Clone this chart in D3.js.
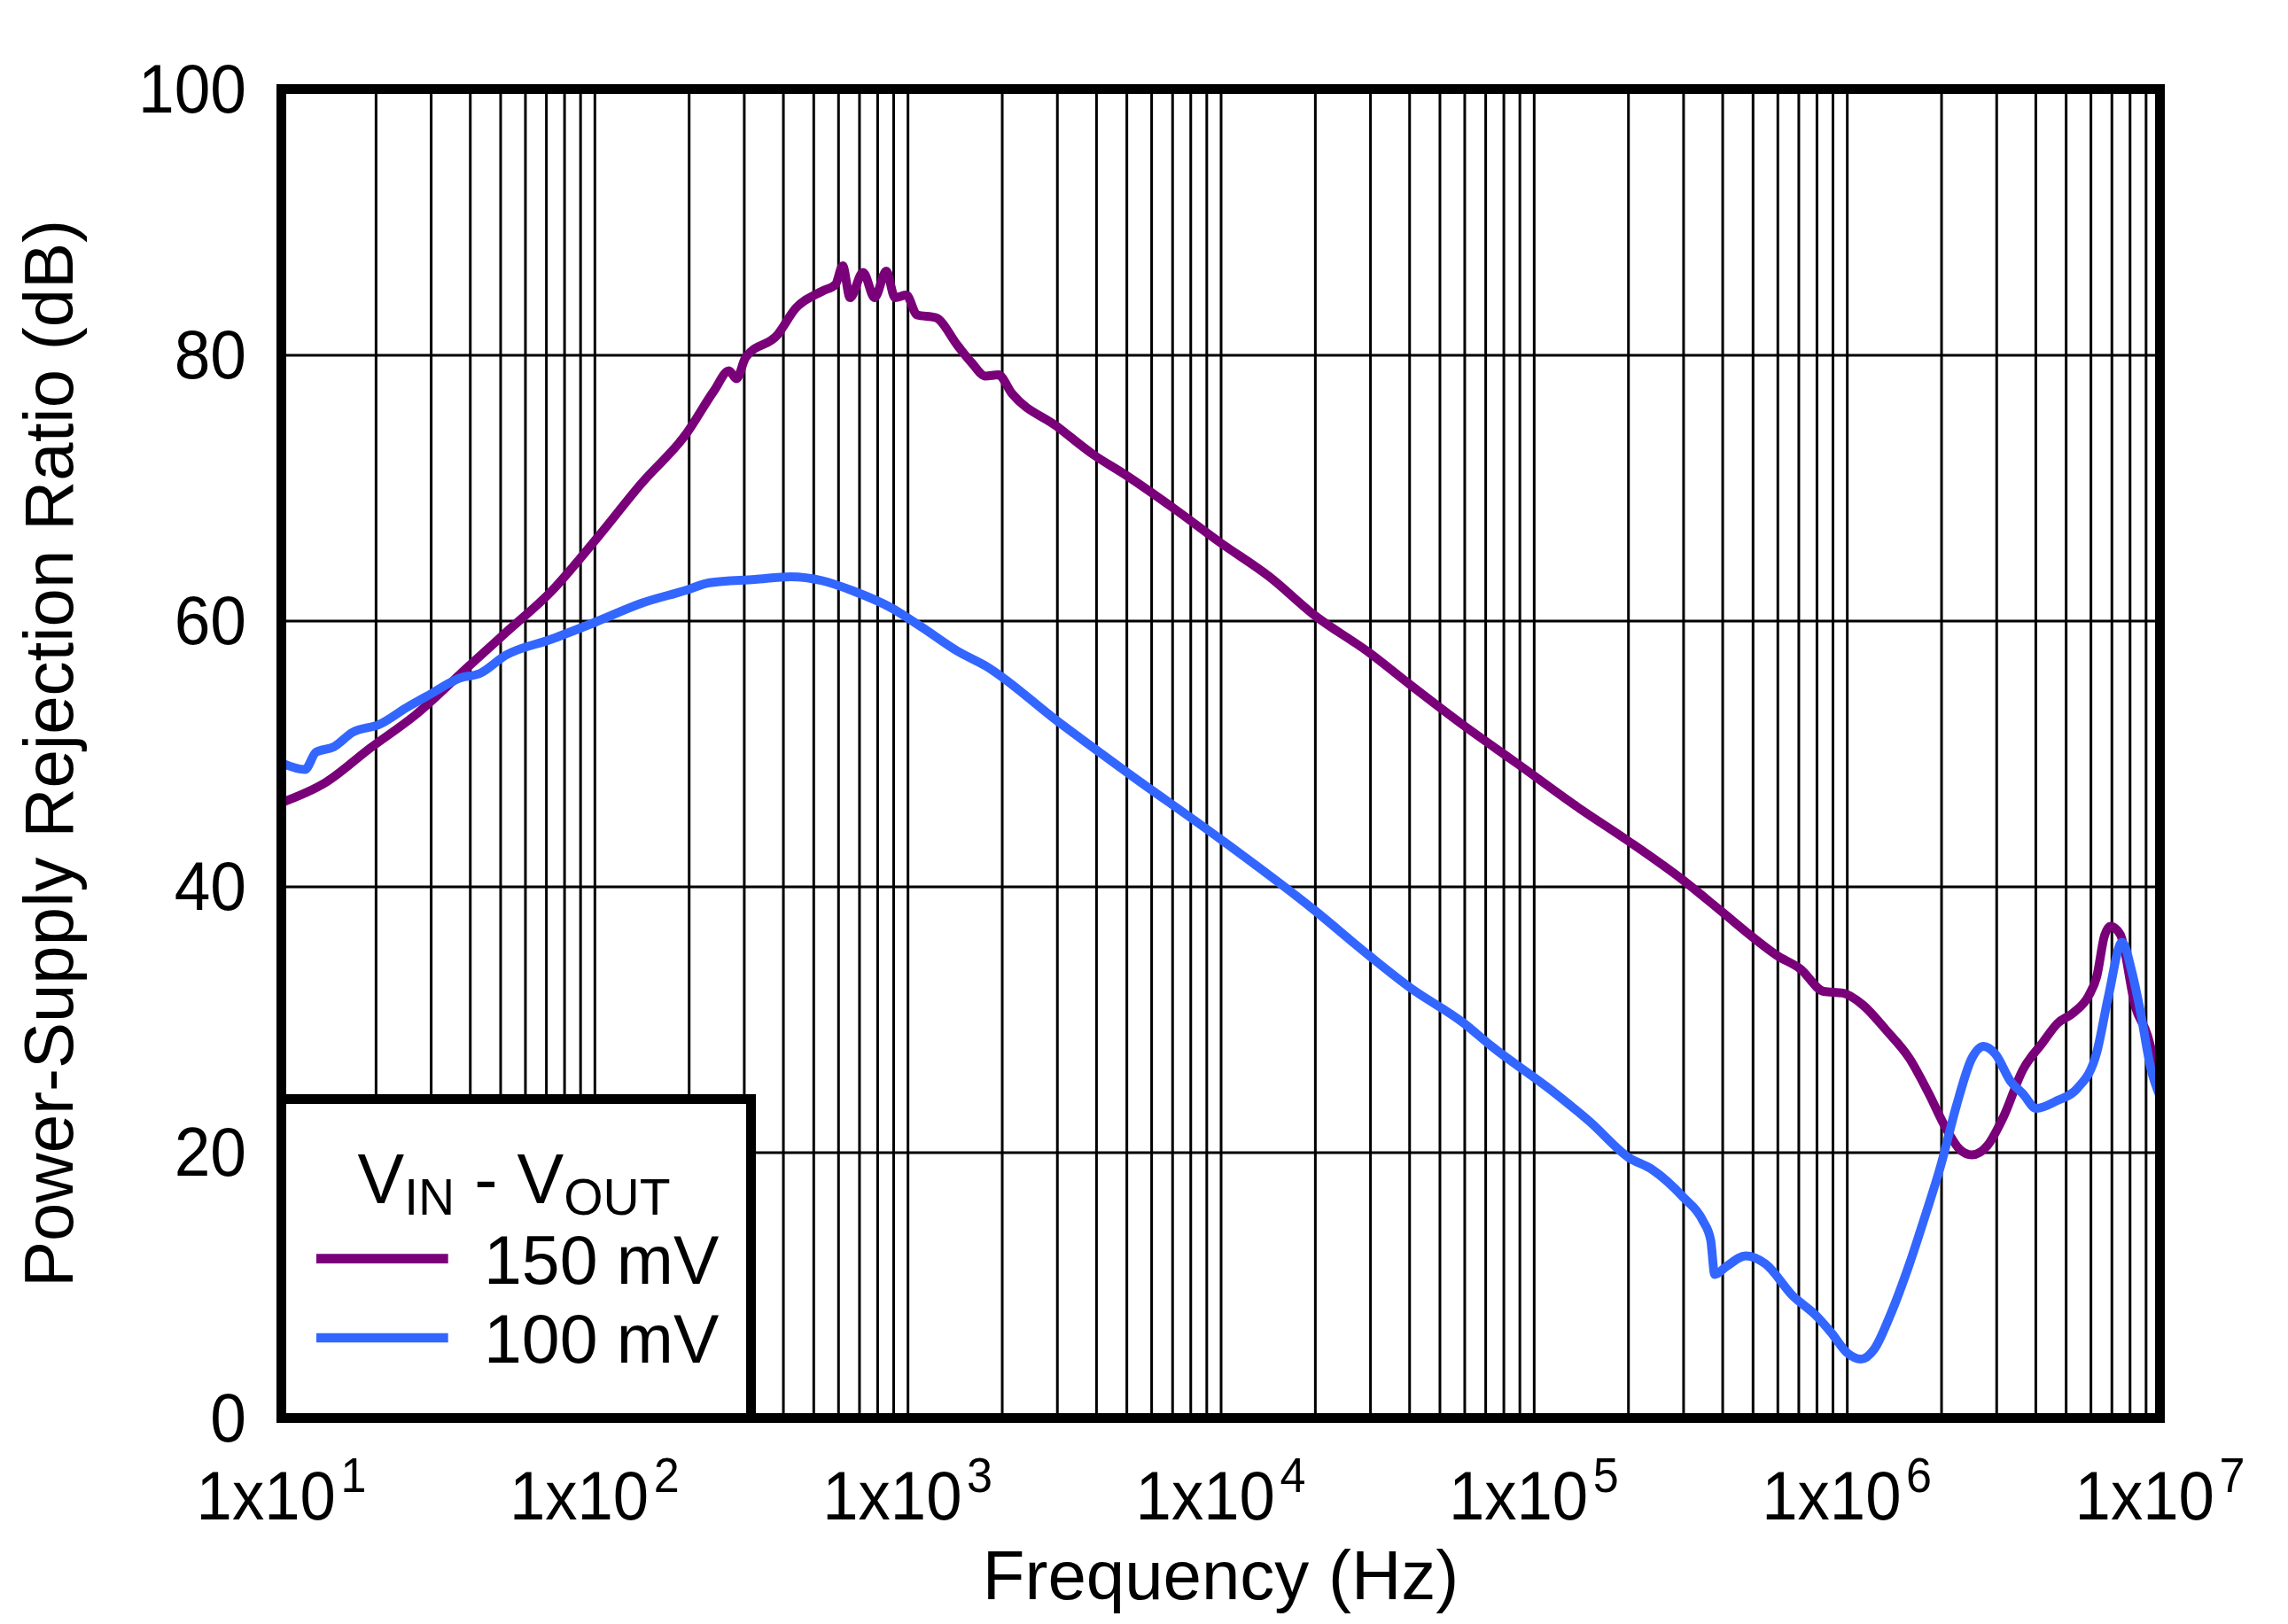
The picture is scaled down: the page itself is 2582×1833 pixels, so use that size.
<!DOCTYPE html>
<html>
<head>
<meta charset="utf-8">
<script src="https://cdn.jsdelivr.net/npm/d3@7"></script>
<style>
  html, body { margin: 0; padding: 0; background: #fff; }
  svg { display: block; }
  text { font-family: "Liberation Sans", Arial, sans-serif; fill: #000; }
</style>
</head>
<body>
<svg id="chart" width="2582" height="1833"></svg>
<script>
// ---------------- DATA ----------------
const xTickExponents = [1, 2, 3, 4, 5, 6, 7];
const yTicks = [0, 20, 40, 60, 80, 100];
const xTitle = "Frequency (Hz)";
const yTitle = "Power-Supply Rejection Ratio (dB)";
const legendTitle = ["V", "IN", " - V", "OUT"];
const seriesNames = ["150 mV", "100 mV"];
const seriesColors = ["#7A007A", "#3366FF"];

// 150 mV curve (frequency in Hz, PSRR in dB)
const freq150 = [10, 13.8, 19.2, 26.8, 39.8, 52.1, 72.8, 101, 141, 197, 241, 269, 284, 304, 384, 439, 535, 589, 621, 655, 721, 785, 855, 912, 991, 1072, 1230, 1445, 1603, 1774, 1950, 2153, 3006, 3917, 4943, 7129, 9931, 14322, 19953, 29785, 40179, 59841, 89125, 137404, 200909, 300608, 399945, 503501, 598412, 709578, 843335, 972747, 1122018, 1333521, 1584893, 1828100, 2051162, 2296206, 2506109, 2811900, 3155005, 3647748, 4207266, 4709773, 5296634, 5929253, 6280583, 6652732, 6950243, 7464487, 8356030, 9120108, 9660509, 10000000];
const psrr150 = [46.3, 47.8, 50.4, 52.9, 56.6, 59.1, 62.2, 66.1, 70.3, 74.1, 77.3, 78.8, 78.2, 79.8, 81.5, 83.5, 84.8, 85.3, 86.7, 84.3, 86.2, 84.3, 86.3, 84.3, 84.5, 83.0, 82.8, 80.7, 79.4, 78.4, 78.5, 77.1, 74.6, 72.5, 71.0, 68.4, 65.9, 63.3, 60.4, 57.6, 55.2, 52.1, 49.2, 46.0, 43.4, 40.45, 38.07, 36.13, 34.8, 33.8, 32.1, 31.97, 31.1, 29.2, 27.06, 24.4, 22.0, 20.2, 19.8, 20.5, 22.6, 26.2, 28.2, 29.7, 30.5, 31.8, 33.2, 36.3, 37.0, 36.4, 30.9, 28.8, 26.5, 25.0];

// 100 mV curve
const freq100 = [10, 11.9, 12.9, 14.7, 16.9, 20.6, 25.1, 29.6, 37.4, 42.8, 52.1, 72.8, 101, 141, 197, 233, 325, 424, 535, 676, 881, 1112, 1445, 1774, 3006, 4943, 9931, 19953, 29785, 40179, 59841, 73114, 113240, 151008, 200909, 238781, 300608, 346737, 367282, 378443, 412098, 475335, 549541, 671429, 797995, 895365, 1002305, 1109175, 1224616, 1374042, 1584893, 1778279, 1995262, 2238721, 2506109, 2735269, 2978583, 3341950, 3647748, 4027170, 4709773, 5445026, 6280583, 6854882, 7568329, 8128305, 8609938, 9375620, 10000000];
const psrr100 = [49.3, 48.8, 50.1, 50.5, 51.6, 52.2, 53.45, 54.4, 55.7, 56.0, 57.4, 58.6, 59.9, 61.3, 62.3, 62.85, 63.1, 63.3, 63.0, 62.2, 61.0, 59.5, 57.7, 56.6, 52.45, 48.7, 43.6, 38.2, 34.8, 32.4, 29.7, 28.0, 24.7, 22.3, 19.6, 18.7, 16.6, 14.85, 13.4, 10.8, 11.4, 12.2, 11.6, 9.2, 7.7, 6.37, 4.9, 4.43, 5.2, 7.7, 11.6, 15.2, 19.0, 23.5, 27.06, 27.97, 27.4, 25.3, 24.4, 23.3, 23.9, 24.8, 27.5, 31.8, 35.8, 33.6, 30.9, 26.2, 24.2];

// ---------------- LAYOUT ----------------
const L = 317.5, R = 2437.5, T = 100.5, B = 1600.5;
const svg = d3.select("#chart");

const x = d3.scaleLog().domain([10, 1e7]).range([L, R]);
const y = d3.scaleLinear().domain([0, 100]).range([B, T]);

// grid via axes
const minorTicks = [];
for (let e = 1; e < 7; e++) for (let k = 1; k <= 9; k++) minorTicks.push(k * Math.pow(10, e));

const gx = svg.append("g").attr("transform", `translate(0,${B})`)
  .call(d3.axisBottom(x).tickValues(minorTicks).tickSize(-(B - T)).tickFormat(""));
gx.select(".domain").remove();
gx.selectAll(".tick line").attr("stroke", "#000").attr("stroke-width", 3);

const gy = svg.append("g").attr("transform", `translate(${L},0)`)
  .call(d3.axisLeft(y).tickValues(yTicks.filter(v => v > 0 && v < 100)).tickSize(-(R - L)).tickFormat(""));
gy.select(".domain").remove();
gy.selectAll(".tick line").attr("stroke", "#000").attr("stroke-width", 3);

// curves
const line = d3.line().x(d => x(d[0])).y(d => y(d[1])).curve(d3.curveMonotoneX);
const data150 = freq150.map((f, i) => [f, psrr150[i]]);
const data100 = freq100.map((f, i) => [f, psrr100[i]]);

svg.append("defs").append("clipPath").attr("id", "clip")
  .append("rect").attr("x", L).attr("y", T).attr("width", R - L).attr("height", B - T);

svg.append("path").datum(data150).attr("d", line)
  .attr("fill", "none").attr("stroke", seriesColors[0]).attr("stroke-width", 10)
  .attr("stroke-linejoin", "round").attr("clip-path", "url(#clip)");
svg.append("path").datum(data100).attr("d", line)
  .attr("fill", "none").attr("stroke", seriesColors[1]).attr("stroke-width", 10)
  .attr("stroke-linejoin", "round").attr("clip-path", "url(#clip)");

// legend box
const lg = svg.append("g");
lg.append("rect").attr("x", L).attr("y", 1240.5).attr("width", 847.5 - L).attr("height", B - 1240.5)
  .attr("fill", "#fff").attr("stroke", "#000").attr("stroke-width", 11);
const lt = lg.append("text").attr("x", 580).attr("y", 1358).attr("text-anchor", "middle");
lt.append("tspan").attr("font-size", 79).text(legendTitle[0]);
lt.append("tspan").attr("font-size", 57).attr("dy", 13).text(legendTitle[1]);
lt.append("tspan").attr("font-size", 79).attr("dy", -13).text(legendTitle[2]);
lt.append("tspan").attr("font-size", 57).attr("dy", 13).text(legendTitle[3]);
const legendRows = [1420.7, 1510];
seriesNames.forEach((name, i) => {
  lg.append("line").attr("x1", 357).attr("x2", 505.7).attr("y1", legendRows[i]).attr("y2", legendRows[i])
    .attr("stroke", seriesColors[i]).attr("stroke-width", 10.7);
  lg.append("text").attr("x", 546).attr("y", legendRows[i] + 28)
    .attr("font-size", 77).text(name);
});

// frame
svg.append("rect").attr("x", L).attr("y", T).attr("width", R - L).attr("height", B - T)
  .attr("fill", "none").attr("stroke", "#000").attr("stroke-width", 11);

// y tick labels
svg.append("g").selectAll("text").data(yTicks).join("text")
  .attr("transform", d => `translate(278,${y(d) + 26}) scale(0.95,1)`)
  .attr("text-anchor", "end").attr("font-size", 77).text(d => d);

// x tick labels
const xl = svg.append("g").selectAll("text").data(xTickExponents).join("text")
  .attr("transform", d => `translate(${x(Math.pow(10, d))},1715) scale(0.93,1)`)
  .attr("text-anchor", "middle");
xl.append("tspan").attr("font-size", 78).text("1x10");
xl.append("tspan").attr("font-size", 56).attr("dx", 6).attr("dy", -31).text(d => d);

// axis titles
svg.append("text").attr("x", (L + R) / 2).attr("y", 1805).attr("text-anchor", "middle")
  .attr("font-size", 78).text(xTitle);
svg.append("text").attr("transform", `translate(82,${(T + B) / 2}) rotate(-90)`)
  .attr("text-anchor", "middle").attr("font-size", 78).text(yTitle);
</script>
</body>
</html>
